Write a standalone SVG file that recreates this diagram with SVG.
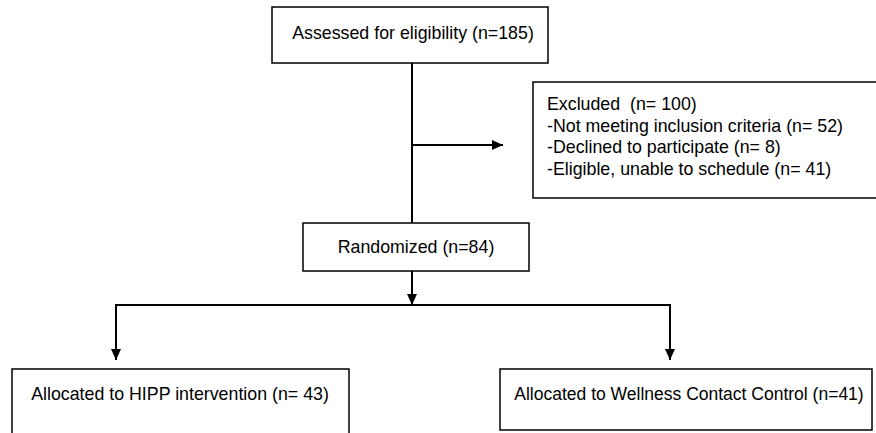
<svg xmlns="http://www.w3.org/2000/svg" width="876" height="433" viewBox="0 0 876 433">
<defs>
<style>
.box{fill:#fff;stroke:#000;stroke-width:1.5}
.t{font-family:"Liberation Sans",Arial,sans-serif;font-size:17.8px;fill:#000}
.c{fill:none;stroke:#000;stroke-width:2}
</style>
<marker id="ah" viewBox="0 0 11 10" refX="11" refY="5" markerWidth="11" markerHeight="10" markerUnits="userSpaceOnUse" orient="auto">
<path d="M0,0 L11,5 L0,10 Z" fill="#000"/>
</marker>
</defs>
<rect width="876" height="433" fill="#fff"/>
<g id="connectors">
<line class="c" x1="412" y1="63" x2="412" y2="223"/>
<line class="c" x1="412" y1="145" x2="503" y2="145" marker-end="url(#ah)"/>
<line class="c" x1="412" y1="271" x2="412" y2="305" marker-end="url(#ah)"/>
<polyline class="c" points="116,350 116,305 670,305 670,350"/>
<line class="c" x1="116" y1="330" x2="116" y2="360" marker-end="url(#ah)"/>
<line class="c" x1="670" y1="330" x2="670" y2="360" marker-end="url(#ah)"/>
</g>
<g id="assessed">
<rect class="box" x="272" y="7" width="276" height="56"/>
<text class="t" x="413" y="39" text-anchor="middle">Assessed for eligibility (n=185)</text>
</g>
<g id="excluded">
<rect class="box" x="533" y="82" width="346" height="116"/>
<text class="t" x="547" y="110" xml:space="preserve">Excluded  (n= 100)</text>
<text class="t" x="547" y="132">-Not meeting inclusion criteria (n= 52)</text>
<text class="t" x="547" y="153">-Declined to participate (n= 8)</text>
<text class="t" x="547" y="175">-Eligible, unable to schedule (n= 41)</text>
</g>
<g id="randomized">
<rect class="box" x="303" y="223" width="226" height="48"/>
<text class="t" x="416" y="253" text-anchor="middle">Randomized (n=84)</text>
</g>
<g id="hipp">
<rect class="box" x="12" y="369" width="337" height="80"/>
<text class="t" x="180" y="400" text-anchor="middle">Allocated to HIPP intervention (n= 43)</text>
</g>
<g id="wellness">
<rect class="box" x="500" y="369" width="372" height="61"/>
<text class="t" x="689" y="400" text-anchor="middle" style="font-size:17.5px">Allocated to Wellness Contact Control (n=41)</text>
</g>
</svg>
